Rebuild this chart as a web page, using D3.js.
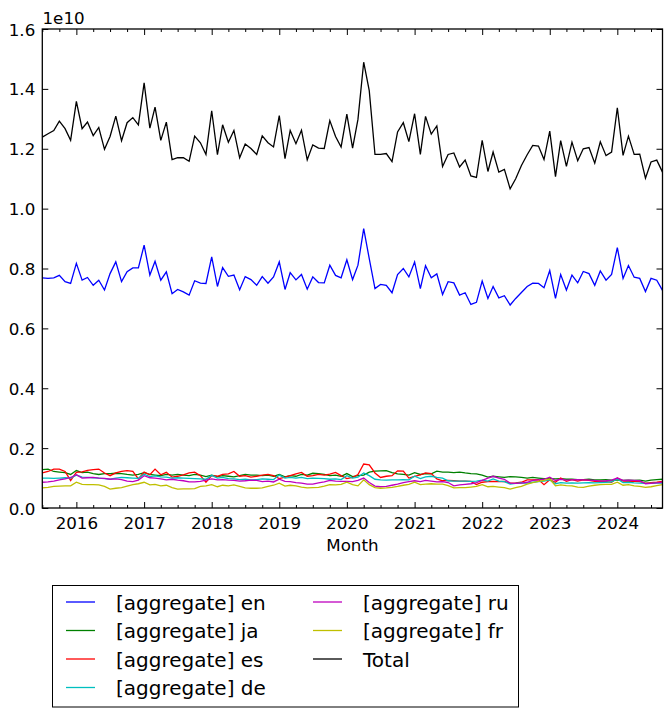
<!DOCTYPE html>
<html>
<head>
<meta charset="utf-8">
<script src="https://cdn.jsdelivr.net/npm/d3@7"></script>
<style>
  body { margin: 0; background: #fff; }
  svg { display: block; font-family: "DejaVu Sans", sans-serif; }
</style>
</head>
<body>
<svg id="chart" width="672" height="717"></svg>
<script>
// Months: 2015-07 .. 2024-09 (111 months); values in units of 1e10
const startMonth = new Date(2015, 6, 1);
const endMonth = new Date(2024, 8, 1);

const total = [
  1.239, 1.250, 1.261, 1.292, 1.267, 1.228,
  1.358, 1.267, 1.289, 1.244, 1.271, 1.198, 1.241, 1.309, 1.227, 1.287, 1.304, 1.280,
  1.420, 1.269, 1.339, 1.228, 1.289, 1.164, 1.170, 1.170, 1.158, 1.242, 1.220, 1.181,
  1.327, 1.180, 1.280, 1.222, 1.261, 1.170, 1.216, 1.201, 1.181, 1.243, 1.220, 1.206,
  1.311, 1.167, 1.261, 1.217, 1.262, 1.163, 1.213, 1.202, 1.201, 1.294, 1.241, 1.206,
  1.316, 1.202, 1.298, 1.489, 1.394, 1.181, 1.181, 1.184, 1.157, 1.256, 1.287, 1.224,
  1.317, 1.181, 1.308, 1.249, 1.276, 1.141, 1.181, 1.186, 1.139, 1.162, 1.109, 1.104,
  1.228, 1.124, 1.189, 1.122, 1.131, 1.066, 1.100, 1.144, 1.180, 1.211, 1.209, 1.164,
  1.259, 1.107, 1.227, 1.141, 1.222, 1.160, 1.200, 1.204, 1.152, 1.223, 1.177, 1.189,
  1.337, 1.178, 1.242, 1.181, 1.182, 1.102, 1.156, 1.162, 1.122
];
const en = [
  0.769, 0.767, 0.769, 0.777, 0.756, 0.750,
  0.817, 0.761, 0.770, 0.744, 0.761, 0.728, 0.783, 0.822, 0.756, 0.789, 0.802, 0.802,
  0.878, 0.778, 0.824, 0.761, 0.789, 0.716, 0.730, 0.722, 0.711, 0.759, 0.751, 0.750,
  0.839, 0.740, 0.803, 0.774, 0.778, 0.729, 0.773, 0.763, 0.744, 0.773, 0.751, 0.772,
  0.822, 0.730, 0.786, 0.762, 0.780, 0.731, 0.772, 0.753, 0.752, 0.811, 0.777, 0.769,
  0.829, 0.763, 0.811, 0.933, 0.833, 0.733, 0.747, 0.744, 0.719, 0.780, 0.800, 0.772,
  0.822, 0.733, 0.809, 0.769, 0.782, 0.713, 0.756, 0.752, 0.711, 0.719, 0.680, 0.687,
  0.758, 0.700, 0.740, 0.702, 0.709, 0.678, 0.700, 0.720, 0.740, 0.751, 0.750, 0.736,
  0.793, 0.700, 0.780, 0.728, 0.778, 0.752, 0.790, 0.783, 0.744, 0.792, 0.761, 0.780,
  0.870, 0.767, 0.810, 0.771, 0.767, 0.723, 0.767, 0.761, 0.727
];
const ja = [
  0.128, 0.130, 0.122, 0.120, 0.118, 0.112,
  0.125, 0.118, 0.120, 0.115, 0.112, 0.115, 0.115, 0.116, 0.115, 0.112, 0.110, 0.112,
  0.118, 0.112, 0.110, 0.108, 0.112, 0.110, 0.112, 0.110, 0.108, 0.112, 0.110, 0.105,
  0.110, 0.105, 0.108, 0.106, 0.104, 0.108, 0.112, 0.110, 0.110, 0.108, 0.110, 0.106,
  0.112, 0.104, 0.108, 0.106, 0.112, 0.110, 0.116, 0.115, 0.112, 0.108, 0.110, 0.106,
  0.115, 0.105, 0.108, 0.110, 0.120, 0.123, 0.124, 0.125, 0.118, 0.114, 0.112, 0.110,
  0.118, 0.112, 0.115, 0.114, 0.123, 0.120, 0.120, 0.118, 0.120, 0.117, 0.115, 0.114,
  0.110, 0.103, 0.106, 0.104, 0.102, 0.105, 0.104, 0.102, 0.100, 0.102, 0.100, 0.098,
  0.098, 0.097, 0.098, 0.096, 0.096, 0.095, 0.095, 0.096, 0.094, 0.094, 0.095, 0.093,
  0.094, 0.092, 0.093, 0.092, 0.093, 0.090, 0.093, 0.095, 0.096
];
const es = [
  0.117, 0.122, 0.130, 0.130, 0.122, 0.092,
  0.119, 0.121, 0.126, 0.128, 0.130, 0.117, 0.108, 0.117, 0.122, 0.125, 0.122, 0.097,
  0.120, 0.111, 0.130, 0.111, 0.119, 0.103, 0.106, 0.111, 0.117, 0.120, 0.108, 0.086,
  0.108, 0.106, 0.112, 0.114, 0.122, 0.106, 0.108, 0.103, 0.106, 0.110, 0.112, 0.108,
  0.098, 0.103, 0.108, 0.114, 0.119, 0.106, 0.108, 0.112, 0.110, 0.113, 0.119, 0.108,
  0.098, 0.102, 0.112, 0.147, 0.144, 0.117, 0.102, 0.106, 0.108, 0.124, 0.123, 0.100,
  0.106, 0.111, 0.117, 0.115, 0.097, 0.091, 0.092, 0.091, 0.090, 0.090, 0.089, 0.078,
  0.086, 0.088, 0.089, 0.088, 0.089, 0.083, 0.084, 0.086, 0.094, 0.094, 0.095, 0.078,
  0.094, 0.086, 0.100, 0.089, 0.095, 0.090, 0.094, 0.092, 0.089, 0.090, 0.088, 0.086,
  0.100, 0.090, 0.089, 0.089, 0.088, 0.083, 0.085, 0.086, 0.089
];
const de = [
  0.100, 0.100, 0.099, 0.100, 0.101, 0.100,
  0.110, 0.103, 0.102, 0.101, 0.100, 0.098, 0.096, 0.100, 0.102, 0.101, 0.100, 0.099,
  0.113, 0.105, 0.107, 0.104, 0.103, 0.100, 0.101, 0.100, 0.099, 0.098, 0.097, 0.096,
  0.109, 0.100, 0.102, 0.098, 0.097, 0.095, 0.096, 0.094, 0.095, 0.097, 0.096, 0.095,
  0.110, 0.100, 0.102, 0.100, 0.102, 0.098, 0.100, 0.099, 0.098, 0.096, 0.097, 0.095,
  0.108, 0.100, 0.103, 0.117, 0.108, 0.096, 0.094, 0.093, 0.094, 0.094, 0.095, 0.094,
  0.106, 0.098, 0.104, 0.106, 0.102, 0.100, 0.091, 0.090, 0.090, 0.090, 0.089, 0.090,
  0.093, 0.090, 0.097, 0.090, 0.088, 0.080, 0.082, 0.084, 0.083, 0.086, 0.088, 0.090,
  0.094, 0.081, 0.085, 0.083, 0.084, 0.083, 0.084, 0.085, 0.084, 0.085, 0.086, 0.087,
  0.097, 0.085, 0.086, 0.084, 0.083, 0.082, 0.082, 0.083, 0.083
];
const ru = [
  0.086, 0.087, 0.090, 0.094, 0.097, 0.102,
  0.111, 0.100, 0.101, 0.102, 0.100, 0.099, 0.096, 0.097, 0.095, 0.090, 0.088, 0.093,
  0.108, 0.101, 0.100, 0.097, 0.094, 0.096, 0.093, 0.091, 0.087, 0.087, 0.089, 0.093,
  0.097, 0.094, 0.095, 0.093, 0.092, 0.090, 0.091, 0.093, 0.092, 0.088, 0.090, 0.087,
  0.096, 0.089, 0.088, 0.085, 0.083, 0.080, 0.080, 0.084, 0.087, 0.092, 0.090, 0.089,
  0.089, 0.088, 0.092, 0.100, 0.085, 0.073, 0.071, 0.072, 0.076, 0.080, 0.085, 0.088,
  0.091, 0.088, 0.092, 0.090, 0.087, 0.088, 0.085, 0.074, 0.077, 0.079, 0.081, 0.085,
  0.092, 0.100, 0.106, 0.100, 0.096, 0.083, 0.082, 0.083, 0.086, 0.092, 0.094, 0.096,
  0.103, 0.092, 0.096, 0.093, 0.094, 0.095, 0.094, 0.093, 0.092, 0.090, 0.091, 0.093,
  0.100, 0.092, 0.093, 0.092, 0.091, 0.081, 0.082, 0.084, 0.086
];
const fr = [
  0.067, 0.069, 0.072, 0.073, 0.074, 0.074,
  0.086, 0.079, 0.078, 0.078, 0.077, 0.072, 0.063, 0.066, 0.068, 0.073, 0.078, 0.081,
  0.086, 0.077, 0.079, 0.074, 0.076, 0.068, 0.063, 0.064, 0.064, 0.065, 0.072, 0.074,
  0.078, 0.071, 0.076, 0.074, 0.077, 0.072, 0.067, 0.066, 0.066, 0.067, 0.072, 0.076,
  0.083, 0.073, 0.076, 0.074, 0.070, 0.067, 0.068, 0.069, 0.073, 0.078, 0.077, 0.079,
  0.086, 0.078, 0.074, 0.094, 0.078, 0.068, 0.066, 0.067, 0.069, 0.072, 0.076, 0.079,
  0.086, 0.078, 0.080, 0.081, 0.080, 0.080, 0.075, 0.067, 0.068, 0.068, 0.070, 0.072,
  0.078, 0.071, 0.072, 0.070, 0.068, 0.063, 0.068, 0.072, 0.080, 0.085, 0.089, 0.092,
  0.097, 0.074, 0.077, 0.075, 0.074, 0.070, 0.069, 0.073, 0.076, 0.078, 0.079, 0.079,
  0.086, 0.076, 0.078, 0.074, 0.072, 0.069, 0.071, 0.075, 0.078
];

const seriesNames = ["[aggregate] en", "[aggregate] ja", "[aggregate] es", "[aggregate] de", "[aggregate] ru", "[aggregate] fr", "Total"];
const seriesData = [en, ja, es, de, ru, fr, total];
const seriesColors = ["#0000ff", "#008000", "#ff0000", "#00bfbf", "#bf00bf", "#bfbf00", "#000000"];
const yTicks = [0.0, 0.2, 0.4, 0.6, 0.8, 1.0, 1.2, 1.4, 1.6];
const xTickYears = [2016, 2017, 2018, 2019, 2020, 2021, 2022, 2023, 2024];

const months = d3.timeMonth.range(startMonth, d3.timeMonth.offset(endMonth, 1));

const svg = d3.select("#chart");
const L = 42.3, R = 662.5, T = 29, B = 508;

const x = d3.scaleTime().domain([startMonth, endMonth]).range([L, R]);
const y = d3.scaleLinear().domain([0, 1.6]).range([B, T]);

svg.append("rect").attr("width", 672).attr("height", 717).attr("fill", "#fff");

// lines
const line = d3.line().x((d, i) => x(months[i])).y(d => y(d));
const lineG = svg.append("g");
seriesData.forEach((s, k) => {
  lineG.append("path").datum(s).attr("d", line)
    .attr("fill", "none").attr("stroke", seriesColors[k])
    .attr("stroke-width", 1.3).attr("stroke-linejoin", "miter");
});

// axes (ticks inward)
const majorDates = xTickYears.map(yr => new Date(yr, 0, 1));
const minorDates = d3.timeMonth.every(3).range(startMonth, d3.timeMonth.offset(endMonth, 1))
  .filter(d => d.getMonth() !== 0);

const fmtY = d3.format(".1f");
const tickFont = "16.7px";

const xBottom = d3.axisBottom(x).tickValues(majorDates).tickSize(-6).tickPadding(9)
  .tickFormat(d3.timeFormat("%Y"));
const gxb = svg.append("g").attr("transform", `translate(0,${B})`).call(xBottom);
const xBottomMinor = d3.axisBottom(x).tickValues(minorDates).tickSize(-3).tickFormat("");
const gxbm = svg.append("g").attr("transform", `translate(0,${B})`).call(xBottomMinor);
const xTop = d3.axisTop(x).tickValues(majorDates).tickSize(-6).tickFormat("");
const gxt = svg.append("g").attr("transform", `translate(0,${T})`).call(xTop);
const xTopMinor = d3.axisTop(x).tickValues(minorDates).tickSize(-3).tickFormat("");
const gxtm = svg.append("g").attr("transform", `translate(0,${T})`).call(xTopMinor);

const yLeft = d3.axisLeft(y).tickValues(yTicks).tickSize(-6).tickPadding(7).tickFormat(fmtY);
const gyl = svg.append("g").attr("transform", `translate(${L},0)`).call(yLeft);
const yRight = d3.axisRight(y).tickValues(yTicks).tickSize(-6).tickFormat("");
const gyr = svg.append("g").attr("transform", `translate(${R},0)`).call(yRight);

[gxb, gxbm, gxt, gxtm, gyl, gyr].forEach(g => {
  g.select(".domain").remove();
  g.selectAll(".tick line").attr("stroke", "#000").attr("stroke-width", 1);
  g.selectAll("text").attr("fill", "#000").attr("font-size", tickFont)
    .attr("font-family", "DejaVu Sans, sans-serif");
});
gxb.selectAll(".tick text").attr("dy", null).attr("y", 21);
gyl.selectAll(".tick text").attr("dy", "0.36em").attr("x", -7);

// frame
svg.append("rect").attr("x", L).attr("y", T).attr("width", R - L).attr("height", B - T)
  .attr("fill", "none").attr("stroke", "#000").attr("stroke-width", 1.3);

// offset text and x label
svg.append("text").attr("x", 42.5).attr("y", 24).attr("font-size", tickFont).text("1e10");
svg.append("text").attr("x", (L + R) / 2).attr("y", 551).attr("text-anchor", "middle")
  .attr("font-size", tickFont).text("Month");

// legend
const lg = svg.append("g");
lg.append("rect").attr("x", 52.5).attr("y", 585.5).attr("width", 466).attr("height", 121.5)
  .attr("fill", "#fff").attr("stroke", "#000").attr("stroke-width", 1);
const rowY = [602, 630.5, 659, 687.5];
const colX = [66, 313];
seriesNames.forEach((name, k) => {
  const col = k < 4 ? 0 : 1;
  const row = k < 4 ? k : k - 4;
  const cy = rowY[row];
  lg.append("line").attr("x1", colX[col]).attr("x2", colX[col] + 29)
    .attr("y1", cy).attr("y2", cy).attr("stroke", seriesColors[k]).attr("stroke-width", 1.3);
  lg.append("text").attr("x", colX[col] + 50).attr("y", cy + 7.5)
    .attr("font-size", "20px").attr("fill", "#000").text(name);
});
</script>
</body>
</html>
